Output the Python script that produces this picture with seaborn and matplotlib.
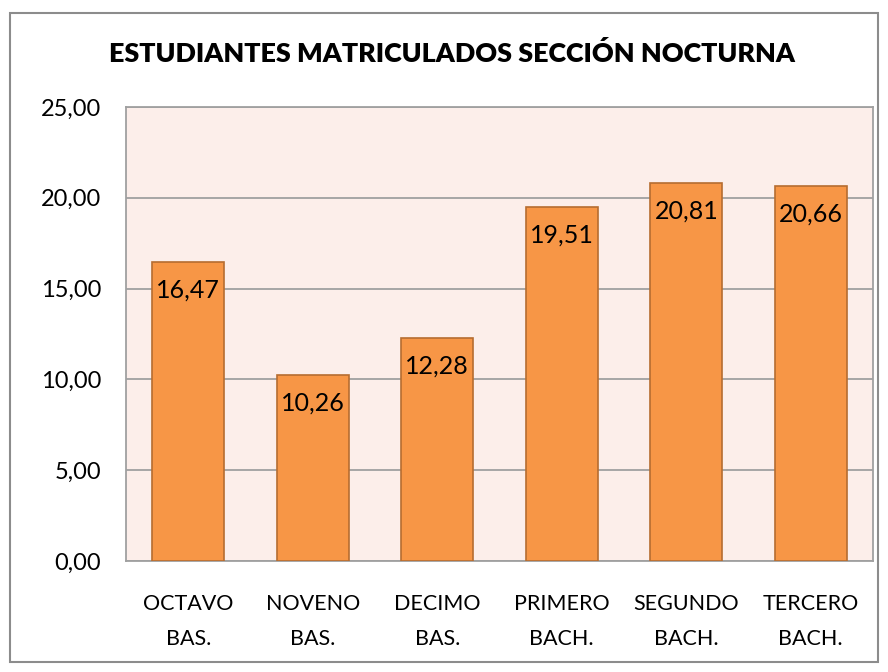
import matplotlib
matplotlib.use("Agg")
import matplotlib.pyplot as plt
import seaborn as sns
import pandas as pd
from matplotlib.patches import Rectangle

categories = ["OCTAVO\nBAS.", "NOVENO\nBAS.", "DECIMO\nBAS.", "PRIMERO\nBACH.", "SEGUNDO\nBACH.", "TERCERO\nBACH."]
values = [16.47, 10.26, 12.28, 19.51, 20.81, 20.66]
yticks = [0, 5, 10, 15, 20, 25]
title = "ESTUDIANTES MATRICULADOS SECCIÓN NOCTURNA"

df = pd.DataFrame({"cat": categories, "val": values})

sns.set_theme(style="white")
plt.rcParams['font.family'] = ['Lato', 'DejaVu Sans']

fig = plt.figure(figsize=(8.88, 6.72), dpi=100)
ax = fig.add_axes([126/888, 1 - 561/672, (873-126)/888, (561-107)/672])

sns.barplot(data=df, x="cat", y="val", ax=ax, color="#F79646", width=0.58,
            saturation=1, edgecolor="#B66D31", linewidth=1.2, zorder=3)

ax.set_facecolor("#FCEEEA")
ax.set_ylim(0, 25)
ax.set_xlim(-0.5, 5.5)
ax.set_yticks(yticks)
ax.set_yticklabels([f"{t:.2f}".replace(".", ",") for t in yticks], fontsize=17, color="black")
ax.tick_params(axis="y", length=0, pad=18)
ax.tick_params(axis="x", length=0, pad=24, labelsize=15.5, labelcolor="black")
ax.set_xlabel("")
ax.set_ylabel("")
for t in ax.get_xticklabels():
    t.set_linespacing(1.9)
ax.yaxis.grid(True, color="#A0A0A0", linewidth=1.3, zorder=0)
ax.set_axisbelow(True)
for s in ax.spines.values():
    s.set_visible(True)
    s.set_color("#A0A0A0")
    s.set_linewidth(1.3)

for p, v in zip(ax.patches, values):
    ax.annotate(f"{v:.2f}".replace(".", ","), (p.get_x() + p.get_width()/2, p.get_height()),
                xytext=(0, -12), textcoords="offset points", ha="center", va="top",
                fontsize=18, color="black", zorder=4)

fig.text(452/888, 1 - 53/672, title, ha="center", va="center", fontsize=19.4, fontweight="heavy",
         color="black")

fig.patches.append(Rectangle((10/888, 10/672), 868/888, 649/672, transform=fig.transFigure,
                             fill=False, edgecolor="#8C8C8C", linewidth=1.5))

fig.savefig("out.png", dpi=100)
